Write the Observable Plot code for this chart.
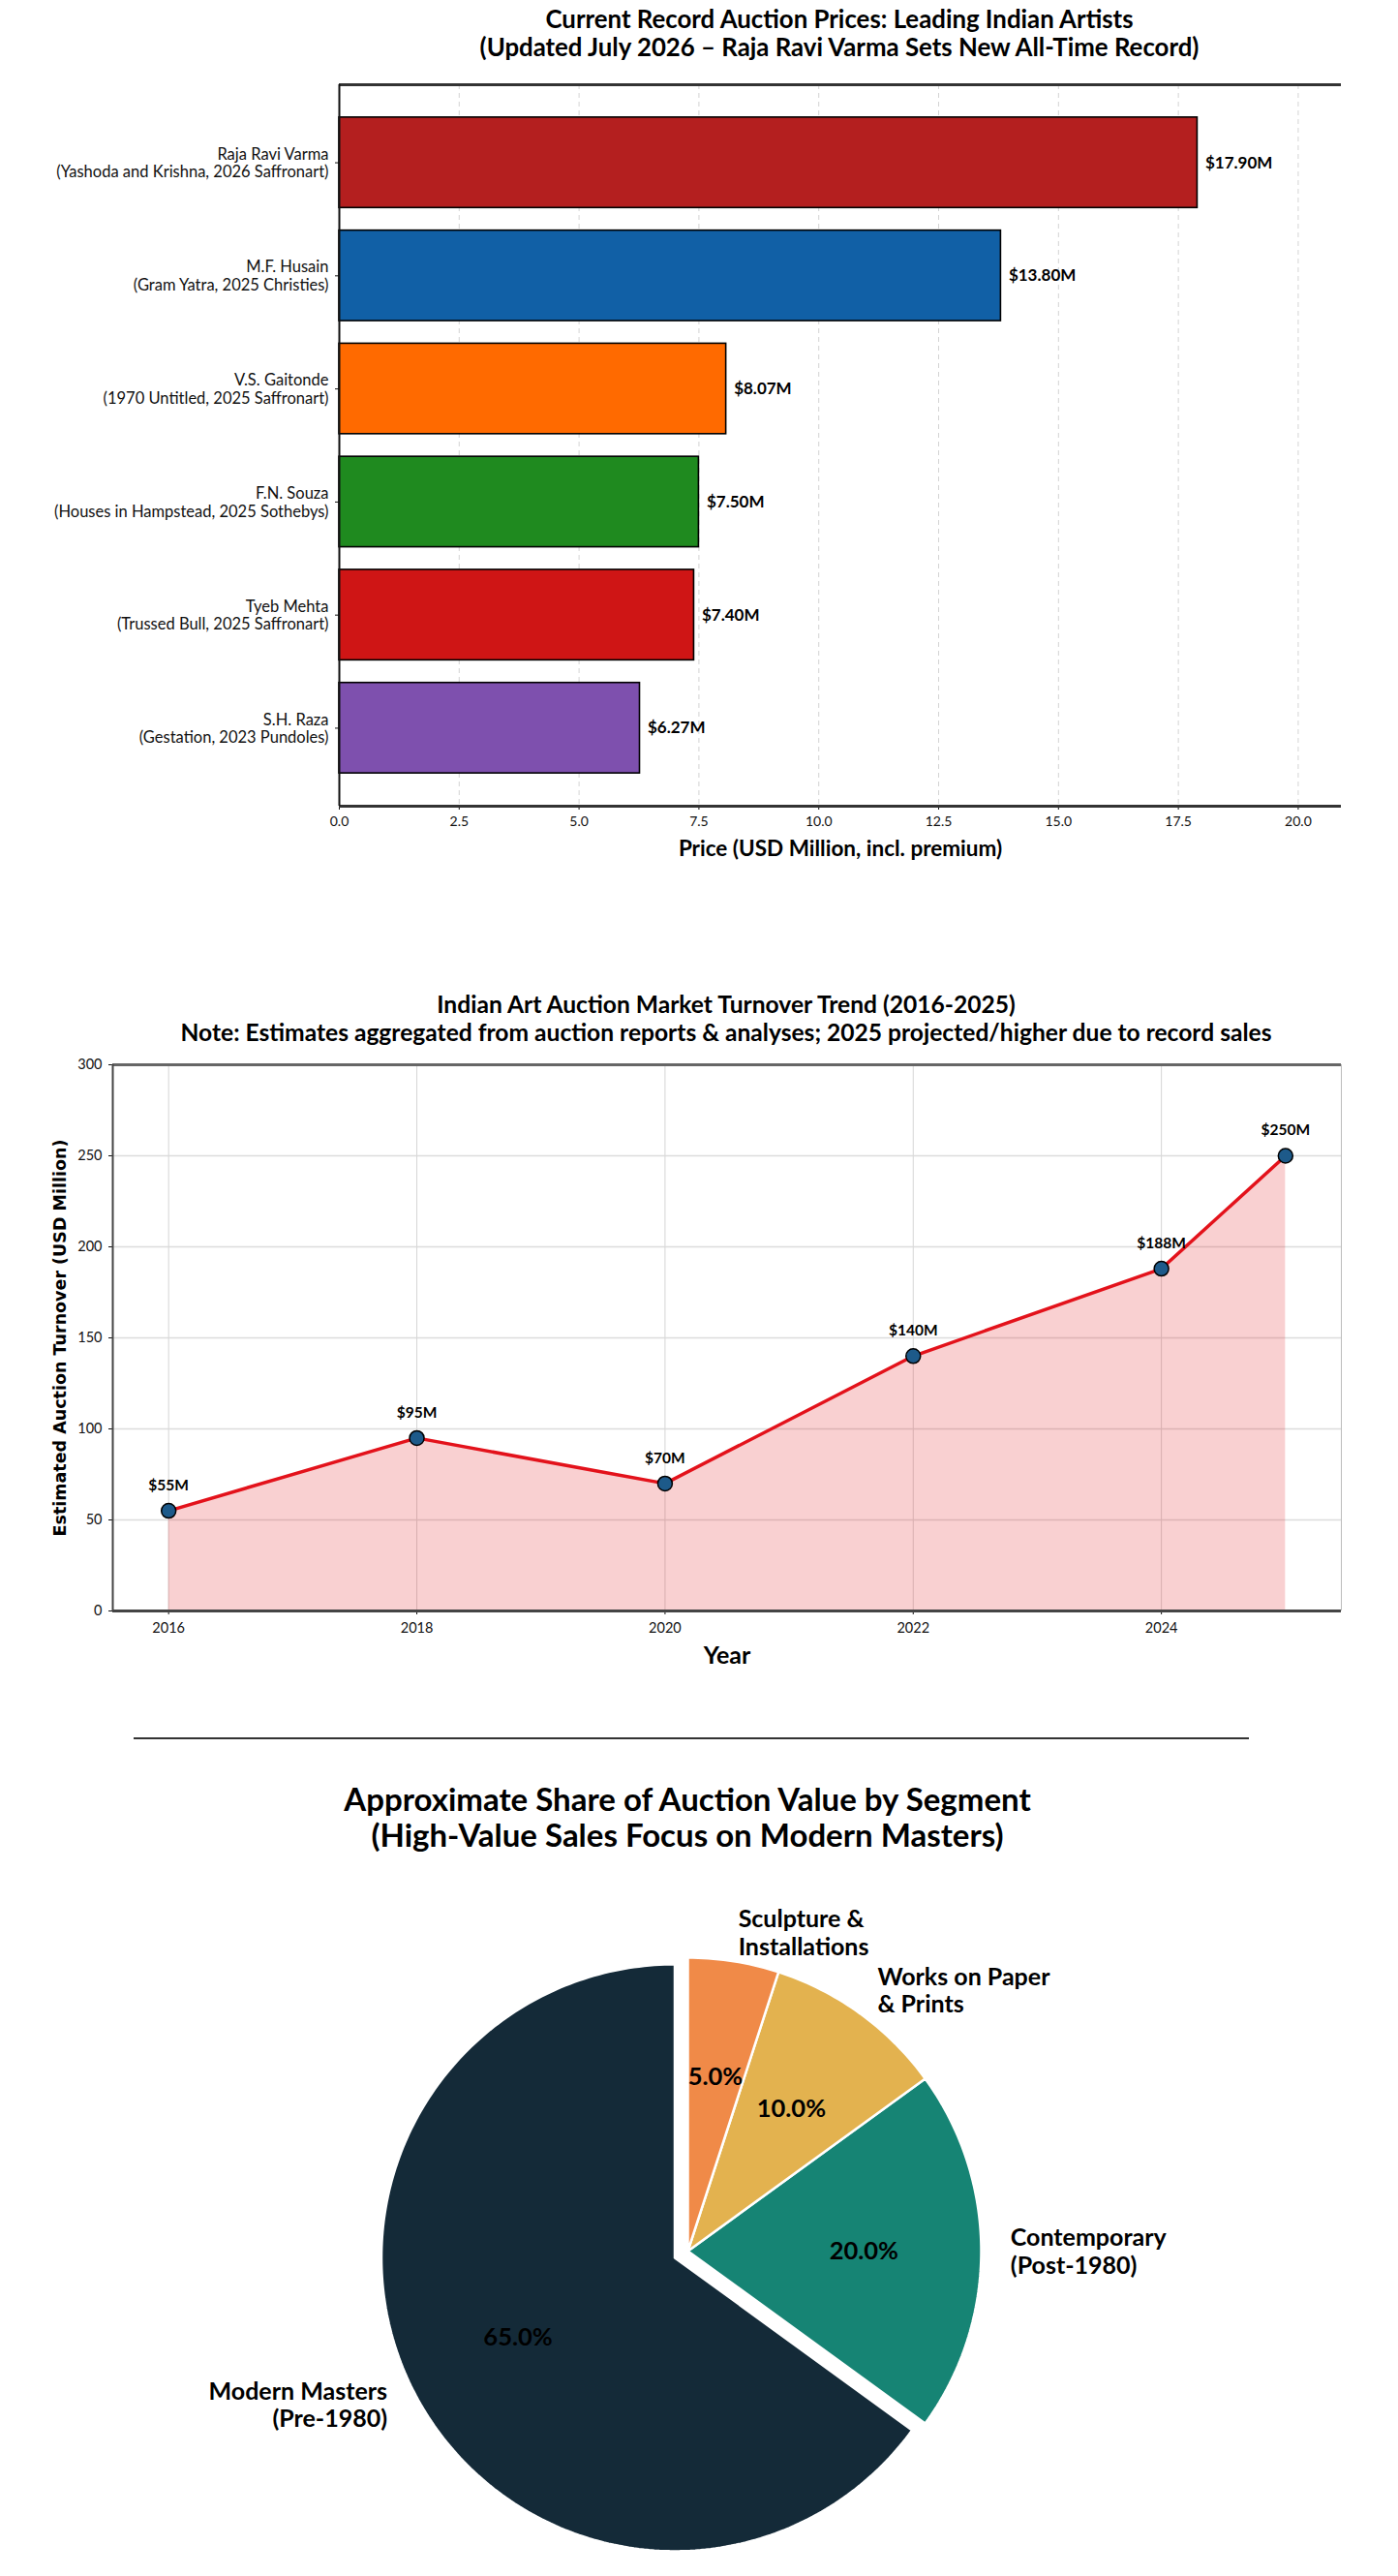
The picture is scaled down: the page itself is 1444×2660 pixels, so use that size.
<!DOCTYPE html>
<html>
<head>
<meta charset="utf-8">
<script src="https://cdn.jsdelivr.net/npm/d3@7"></script>
<script src="https://cdn.jsdelivr.net/npm/@observablehq/plot@0.6"></script>
<style>
  body { margin: 0; background: #fff; }
  #page { position: relative; width: 1444px; height: 2660px; overflow: hidden; background: #fff; font-family: Lato, "Open Sans", sans-serif; }
  .title { position: absolute; text-align: center; font-weight: 700; color: #000; white-space: nowrap; }
  .chart { position: absolute; left: 0; }
  .divider { position: absolute; border-top: 2px solid #333; height: 0; }
</style>
</head>
<body>
<div id="page">
  <div class="title" id="t1" style="left:167px; width:1400px; top:5px; font-size:25.8px; line-height:29px;"></div>
  <div class="chart" id="c1" style="top:0px;"></div>

  <div class="title" id="t2" style="left:50px; width:1400px; top:1022px; font-size:24.6px; line-height:29px;"></div>
  <div class="chart" id="c2" style="top:1000px;"></div>

  <div class="divider" style="left:138px; width:1152px; top:1794px;"></div>
  <div class="title" id="t3" style="left:10px; width:1400px; top:1839px; font-size:33px; line-height:37px;"></div>
  <div class="chart" id="c3" style="top:1930px;"></div>
</div>
<script>
// ---------- Chart 1 data: record auction prices ----------
const artists = [
  "Raja Ravi Varma\n(Yashoda and Krishna, 2026 Saffronart)",
  "M.F. Husain\n(Gram Yatra, 2025 Christies)",
  "V.S. Gaitonde\n(1970 Untitled, 2025 Saffronart)",
  "F.N. Souza\n(Houses in Hampstead, 2025 Sothebys)",
  "Tyeb Mehta\n(Trussed Bull, 2025 Saffronart)",
  "S.H. Raza\n(Gestation, 2023 Pundoles)"
];
const prices = [17.90, 13.80, 8.07, 7.50, 7.40, 6.27];
const barColors = ["#b41f1f", "#1160a6", "#ff6a00", "#1f8a1f", "#cf1515", "#7e50ae"];
const priceTicks = [0, 2.5, 5, 7.5, 10, 12.5, 15, 17.5, 20];
const title1 = ["Current Record Auction Prices: Leading Indian Artists",
                "(Updated July 2026 \u2013 Raja Ravi Varma Sets New All-Time Record)"];
const xLabel1 = "Price (USD Million, incl. premium)";

// ---------- Chart 2 data: turnover trend ----------
const years = [2016, 2018, 2020, 2022, 2024, 2025];
const turnover = [55, 95, 70, 140, 188, 250];
const yearTicks = [2016, 2018, 2020, 2022, 2024];
const turnoverTicks = [0, 50, 100, 150, 200, 250, 300];
const title2 = ["Indian Art Auction Market Turnover Trend (2016-2025)",
                "Note: Estimates aggregated from auction reports & analyses; 2025 projected/higher due to record sales"];
const xLabel2 = "Year";
const yLabel2 = "Estimated Auction Turnover (USD Million)";

// ---------- Chart 3 data: share by segment ----------
const segments = ["Modern Masters\n(Pre-1980)", "Contemporary\n(Post-1980)", "Works on Paper\n& Prints", "Sculpture &\nInstallations"];
const shares = [65, 20, 10, 5];
const segColors = ["#142a38", "#168474", "#e3b24f", "#f08a48"];
const explode = [0.05, 0, 0, 0];
const title3 = ["Approximate Share of Auction Value by Segment",
                "(High-Value Sales Focus on Modern Masters)"];

// titles
document.getElementById("t1").innerHTML = title1.join("<br>");
document.getElementById("t2").innerHTML = title2.join("<br>");
document.getElementById("t3").innerHTML = title3.join("<br>");

const baseStyle = { fontFamily: "Lato, 'Open Sans', sans-serif", fontSize: "14px", color: "#111", background: "transparent", overflow: "visible" };

// ---------- Chart 1 ----------
const barData = artists.map((a, i) => ({ i, artist: a, price: prices[i], color: barColors[i] }));
const yLo = -0.69, yHi = artists.length - 1 + 0.69;
const xMax1 = 20.9;
const chart1 = Plot.plot({
  width: 1444, height: 900,
  marginTop: 87, marginLeft: 350, marginRight: 59, marginBottom: 68,
  style: baseStyle,
  x: { domain: [0, xMax1] },
  y: { domain: [yHi, yLo] },
  color: { type: "identity" },
  marks: [
    Plot.gridX(priceTicks, { stroke: "#c8c8c8", strokeOpacity: 0.8, strokeDasharray: "5,4" }),
    Plot.rect(barData, { x1: 0, x2: "price", y1: d => d.i - 0.4, y2: d => d.i + 0.4, fill: "color", stroke: "#000", strokeWidth: 1.6 }),
    Plot.text(barData, { x: "price", y: "i", text: d => `$${d.price.toFixed(2)}M`, dx: 8, textAnchor: "start", fontWeight: 700, fontSize: 17, fill: "#000" }),
    Plot.axisX({ ticks: priceTicks, tickFormat: d3.format(".1f"), tickSize: 4, tickPadding: 7, fontSize: 14, label: null }),
    Plot.axisY({ ticks: barData.map(d => d.i), tickFormat: i => artists[i], tickSize: 4, tickPadding: 7, fontSize: 16.5, lineHeight: 1.13, label: null }),
    Plot.ruleY([yLo], { stroke: "#333", strokeWidth: 3 }),
    Plot.ruleY([yHi], { stroke: "#333", strokeWidth: 3 }),
    Plot.ruleX([0], { stroke: "#111", strokeWidth: 2 }),
    Plot.text([xLabel1], { frameAnchor: "bottom", dy: 44, lineAnchor: "middle", textAnchor: "middle", fontWeight: 700, fontSize: 22.5, fill: "#000" })
  ]
});
document.getElementById("c1").appendChild(chart1);

// ---------- Chart 2 ----------
const lineData = years.map((y, i) => ({ year: y, value: turnover[i] }));
const x2Lo = 2015.55, x2Hi = 2025.45;
const chart2 = Plot.plot({
  width: 1444, height: 740,
  marginTop: 99, marginLeft: 116, marginRight: 59, marginBottom: 77,
  style: baseStyle,
  x: { domain: [x2Lo, x2Hi] },
  y: { domain: [0, 300] },
  marks: [
    Plot.gridX(yearTicks, { stroke: "#d0d0d0", strokeOpacity: 0.9 }),
    Plot.gridY(turnoverTicks, { stroke: "#d8d8d8", strokeOpacity: 0.9, strokeWidth: 1.5 }),
    Plot.areaY(lineData, { x: "year", y: "value", fill: "#e3121b", fillOpacity: 0.2 }),
    Plot.line(lineData, { x: "year", y: "value", stroke: "#e3121b", strokeWidth: 3.5 }),
    Plot.dot(lineData, { x: "year", y: "value", r: 7.5, fill: "#1d5a8a", stroke: "#000", strokeWidth: 1.5 }),
    Plot.text(lineData, { x: "year", y: "value", text: d => `$${d.value}M`, dy: -26, fontWeight: 700, fontSize: 15.5, fill: "#000" }),
    Plot.axisX({ ticks: yearTicks, tickFormat: "d", tickSize: 4, tickPadding: 8, fontSize: 14.5, label: null }),
    Plot.axisY({ ticks: turnoverTicks, tickSize: 4, tickPadding: 7, fontSize: 14.5, label: null }),
    Plot.ruleY([300], { stroke: "#666", strokeWidth: 3 }),
    Plot.ruleY([0], { stroke: "#444", strokeWidth: 3 }),
    Plot.ruleX([x2Lo], { stroke: "#444", strokeWidth: 2 }),
    Plot.ruleX([x2Hi], { stroke: "#bbb", strokeWidth: 1 }),
    Plot.text([xLabel2], { frameAnchor: "bottom", dy: 46, lineAnchor: "middle", textAnchor: "middle", fontWeight: 700, fontSize: 25, fill: "#000" }),
    Plot.text([yLabel2], { frameAnchor: "left", dx: -54, rotate: -90, lineAnchor: "middle", textAnchor: "middle", fontFamily: "DejaVu Sans", fontWeight: 700, fontSize: 17.5, fill: "#000" })
  ]
});
document.getElementById("c2").appendChild(chart2);

// ---------- Chart 3 (pie) ----------
const R = 303, cx = 710, cy = 394, W3 = 1444, H3 = 730;
const total = d3.sum(shares);
let acc = 0;
const slices = shares.map((v, i) => {
  const a0 = 90 + acc / total * 360;
  acc += v;
  const a1 = 90 + acc / total * 360;
  const mid = (a0 + a1) / 2 * Math.PI / 180;
  const ox = explode[i] * Math.cos(mid), oy = explode[i] * Math.sin(mid);
  const pts = [{ x: ox, y: oy }];
  const n = Math.max(8, Math.ceil(a1 - a0));
  for (let k = 0; k <= n; k++) {
    const t = (a0 + (a1 - a0) * k / n) * Math.PI / 180;
    pts.push({ x: ox + Math.cos(t), y: oy + Math.sin(t) });
  }
  pts.push({ x: ox, y: oy });
  return {
    label: segments[i], pct: (v / total * 100).toFixed(1) + "%", color: segColors[i], pts,
    lx: ox + 1.1 * Math.cos(mid), ly: oy + 1.1 * Math.sin(mid),
    px: ox + 0.6 * Math.cos(mid), py: oy + 0.6 * Math.sin(mid),
    anchor: Math.cos(mid) > 0 ? "start" : "end"
  };
});
const chart3 = Plot.plot({
  width: W3, height: H3, margin: 0,
  style: baseStyle,
  x: { domain: [-cx / R, (W3 - cx) / R], axis: null },
  y: { domain: [-(H3 - cy) / R, cy / R], axis: null },
  marks: [
    ...slices.map(s => Plot.line(s.pts, { x: "x", y: "y", fill: s.color, stroke: "#fff", strokeWidth: 2.5, strokeLinejoin: "miter", curve: "linear" })),
    Plot.text(slices.filter(s => s.anchor === "start"), { x: "lx", y: "ly", text: "label", textAnchor: "start", lineAnchor: "middle", lineHeight: 1.15, fontWeight: 700, fontSize: 25, fill: "#000" }),
    Plot.text(slices.filter(s => s.anchor === "end"), { x: "lx", y: "ly", text: "label", textAnchor: "end", lineAnchor: "middle", lineHeight: 1.15, fontWeight: 700, fontSize: 25, fill: "#000" }),
    Plot.text(slices, { x: "px", y: "py", text: "pct", textAnchor: "middle", lineAnchor: "middle", fontWeight: 700, fontSize: 25.5, fill: "#000" })
  ]
});
document.getElementById("c3").appendChild(chart3);
</script>
</body>
</html>
